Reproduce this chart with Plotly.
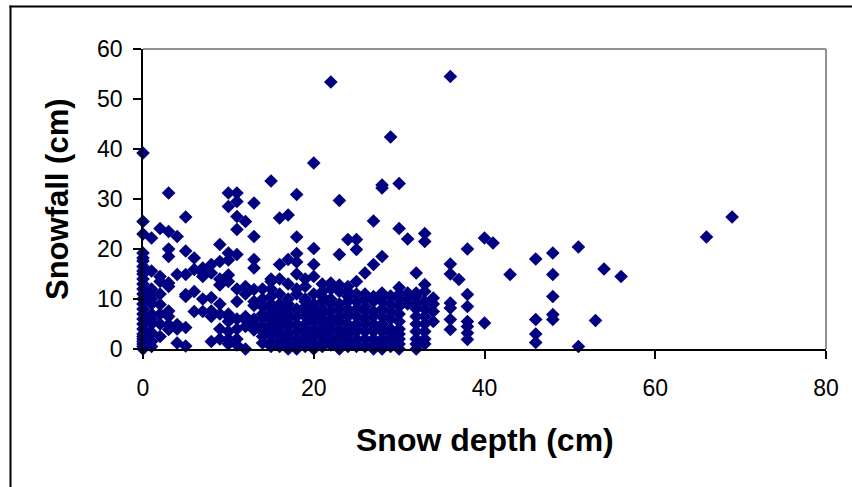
import plotly.graph_objects as go

# Snow depth (cm) for each observation
snow_depth = [
    0, 0, 0, 0, 0, 0, 0, 0, 0, 0, 0, 0, 0, 0, 0, 0, 0, 0, 0, 0, 0, 0, 0, 0, 0, 0, 0,
    1, 1, 1, 1, 1, 1, 1, 1, 1, 1, 1, 1,
    2, 2, 2, 2, 2, 2, 2, 2,
    3, 3, 3, 3, 3, 3, 3, 3, 3, 3,
    4, 4, 4, 4, 4,
    5, 5, 5, 5, 5, 5, 5,
    6, 6, 6, 6,
    7, 7, 7, 7, 7,
    8, 8, 8, 8, 8, 8,
    9, 9, 9, 9, 9, 9, 9, 9,
    10, 10, 10, 10, 10, 10, 10, 10, 10, 10, 10, 10,
    11, 11, 11, 11, 11, 11, 11, 11, 11, 11, 11,
    12, 12, 12, 12, 12, 12, 12,
    13, 13, 13, 13, 13, 13, 13, 13, 13, 13,
    14, 14, 14, 14, 14, 14, 14, 14, 14,
    15, 15, 15, 15, 15, 15, 15, 15, 15, 15, 15, 15, 15, 15,
    16, 16, 16, 16, 16, 16, 16, 16, 16, 16, 16, 16, 16, 16,
    17, 17, 17, 17, 17, 17, 17, 17, 17, 17, 17, 17, 17, 17,
    18, 18, 18, 18, 18, 18, 18, 18, 18, 18, 18, 18, 18, 18,
    19, 19, 19, 19, 19, 19, 19, 19, 19, 19, 19, 19, 19,
    20, 20, 20, 20, 20, 20, 20, 20, 20, 20, 20, 20, 20, 20, 20,
    21, 21, 21, 21, 21, 21, 21, 21, 21, 21, 21, 21, 21,
    22, 22, 22, 22, 22, 22, 22, 22, 22, 22, 22, 22, 22,
    23, 23, 23, 23, 23, 23, 23, 23, 23, 23, 23, 23, 23,
    24, 24, 24, 24, 24, 24, 24, 24, 24, 24, 24, 24, 24, 24,
    25, 25, 25, 25, 25, 25, 25, 25, 25, 25, 25, 25, 25,
    26, 26, 26, 26, 26, 26, 26, 26, 26, 26,
    27, 27, 27, 27, 27, 27, 27, 27, 27, 27, 27, 27,
    28, 28, 28, 28, 28, 28, 28, 28, 28, 28, 28, 28, 28, 28,
    29, 29, 29, 29, 29, 29, 29, 29, 29, 29,
    30, 30, 30, 30, 30, 30, 30, 30, 30, 30, 30, 30, 30,
    31, 31, 31, 31,
    32, 32, 32, 32, 32, 32, 32, 32, 32, 32, 32,
    33, 33, 33, 33, 33, 33, 33, 33, 33, 33, 33,
    34, 34, 34, 34,
    36, 36, 36, 36, 36, 36, 36,
    37,
    38, 38, 38, 38, 38, 38, 38,
    40, 40,
    41,
    43,
    46, 46, 46, 46,
    48, 48, 48, 48, 48,
    51, 51,
    53,
    54,
    56,
    66,
    69,
]

# Snowfall (cm) for each observation
snowfall = [
    0, 0.5, 1, 1.5, 2, 2.5, 3, 4, 5, 6, 7, 8, 9, 10, 11, 12, 13, 14, 15, 15.6, 16.5, 17.6, 18.2, 19.2, 23, 25.5, 39.2,
    22.2, 15.6, 12, 10, 7, 5, 3.3, 1.5, 6, 9, 0.5, 11,
    24.1, 14.5, 11, 8.9, 5, 13.5, 2.5, 7,
    31.2, 23.5, 20, 18.5, 13.2, 7.6, 4.9, 3.9, 12.5, 6.5,
    22.5, 14.9, 4.9, 1.2, 4,
    26.4, 19.6, 14.9, 10.9, 0.6, 4.3, 10.5,
    18.2, 15.9, 11.5, 7.5,
    16.2, 15.2, 10, 7.5, 14.5,
    16.9, 10.3, 7.6, 1.5, 15.2, 6.5,
    20.9, 17.5, 9, 7, 4, 2, 14, 12.8,
    31.2, 28.5, 19.2, 14.8, 13.5, 7, 3.5, 2, 6.5, 1, 5.5, 17.8,
    31.2, 29.5, 26.5, 23.9, 18.9, 12, 6, 4, 2, 0.8, 9.5,
    25.5, 12.5, 11, 6.5, 4.5, 0, 5.8,
    29.2, 22.5, 17.9, 16.2, 11.9, 8.7, 6, 3.8, 9.5, 5,
    10, 7, 4.5, 2.5, 1.2, 12, 6, 8.5, 3.5,
    33.6, 13.5, 12, 10.5, 8, 6, 3, 1.5, 0.5, 14, 5, 7, 4, 9,
    26.2, 16.9, 14, 11, 7.5, 5.5, 3.5, 1.5, 9, 0.5, 2.5, 4.5, 6.5, 8,
    26.8, 17.9, 13, 8, 6, 4.5, 2, 0, 1, 10, 3, 5, 7, 9,
    30.9, 22.4, 19.1, 17.4, 15, 12, 11, 8, 6.5, 5, 3.5, 2, 1, 0,
    14, 8.5, 6.5, 5, 3, 1.5, 0.5, 10, 12.5, 7.5, 2, 4, 9.5,
    37.2, 20.1, 16.9, 14.5, 11, 9, 7, 5.5, 4, 2.5, 1, 0, 3, 6, 8,
    13, 10.5, 8, 6, 4, 3, 1.5, 0.5, 11.5, 2.5, 5, 7, 9.5,
    53.4, 13.2, 10, 7.5, 5, 3.5, 2, 0.8, 12, 6, 1.5, 4, 9,
    29.7, 18.9, 12.8, 9, 6.5, 4, 2.5, 1, 0, 11.5, 5.5, 8, 3.5,
    21.9, 12.5, 10.5, 8, 5, 3, 1.5, 11.5, 6.5, 0.5, 2, 4, 7, 9.5,
    21.9, 19.9, 13.5, 11, 9.5, 5, 3.5, 2, 1, 0.5, 4, 6.5, 8,
    15.2, 11, 7.5, 10, 0.5, 2, 3.5, 5, 6, 8.5,
    25.6, 16.9, 5, 3.5, 2, 1, 0, 4, 6.5, 7.5, 9.5, 10.5,
    32.2, 32.8, 18.5, 11.2, 9.5, 8, 6.5, 5, 3.5, 2, 1, 0, 4, 10.3,
    42.4, 10.6, 9, 4, 2, 0.5, 6, 7.5, 3, 1,
    33.1, 24.1, 12.3, 10, 8.5, 7, 5.5, 4, 3, 2, 1, 0, 11,
    22, 11.2, 10, 9,
    15.2, 11.2, 10.5, 9, 8, 6.5, 5, 3.5, 2, 1, 0,
    23.1, 21.5, 12.9, 11.5, 9.5, 8, 6.5, 5, 3.5, 2, 1,
    10.2, 9, 7.5, 5.5,
    54.5, 17, 15, 9.2, 8.2, 5.9, 3.9,
    13.9,
    20, 10.9, 8.5, 5.5, 4.5, 3.2, 1.9,
    22.2, 5.2,
    21.2,
    14.9,
    18, 5.9, 3, 1.3,
    19.2, 14.9, 10.5, 6.9, 5.9,
    20.4, 0.5,
    5.7,
    16,
    14.5,
    22.4,
    26.4,
]

x_ticks = [0, 20, 40, 60, 80]
y_ticks = [0, 10, 20, 30, 40, 50, 60]
x_title = "Snow depth (cm)"
y_title = "Snowfall (cm)"

FONT = "Liberation Sans, Arial, sans-serif"
NAVY = "#000080"

fig = go.Figure()
fig.add_trace(go.Scatter(
    x=snow_depth, y=snowfall, mode="markers",
    marker=dict(symbol="diamond", size=10.5, color=NAVY, line=dict(width=0)),
    cliponaxis=False, showlegend=False, hoverinfo="x+y",
))

axis_common = dict(
    showgrid=False, zeroline=False, showline=True, linecolor="black", linewidth=1.5,
    ticks="outside", ticklen=8, tickwidth=1.5, tickcolor="black",
    tickfont=dict(family=FONT, size=23, color="black"),
)
fig.update_xaxes(range=[0, 80], tickvals=x_ticks, ticklabelstandoff=10, **axis_common)
fig.update_yaxes(range=[0, 60], tickvals=y_ticks, ticklabelstandoff=6, **axis_common)


def paper_x(p):
    return (p - 143) / 683


def paper_y(p):
    return (349 - p) / 300


# plot-area frame (grey top/right)
fig.add_shape(type="line", xref="paper", yref="paper", x0=0, x1=1, y0=1, y1=1,
              line=dict(color="#909090", width=2), layer="below")
fig.add_shape(type="line", xref="paper", yref="paper", x0=1, x1=1, y0=0, y1=1,
              line=dict(color="#909090", width=2), layer="below")
# outer chart border (top and left edges visible in the window)
fig.add_shape(type="line", xref="paper", yref="paper",
              x0=paper_x(9.5), x1=paper_x(852), y0=paper_y(6.5), y1=paper_y(6.5),
              line=dict(color="black", width=2), layer="above")
fig.add_shape(type="line", xref="paper", yref="paper",
              x0=paper_x(10.5), x1=paper_x(10.5), y0=paper_y(487), y1=paper_y(5.5),
              line=dict(color="black", width=2), layer="above")

fig.add_annotation(text=f"<b>{x_title}</b>", xref="paper", yref="paper",
                   x=0.5, y=paper_y(440), xanchor="center", yanchor="middle",
                   showarrow=False, font=dict(family=FONT, size=32, color="black"))
fig.add_annotation(text=f"<b>{y_title}</b>", xref="paper", yref="paper",
                   x=paper_x(57), y=0.5, xanchor="center", yanchor="middle",
                   textangle=-90, showarrow=False,
                   font=dict(family=FONT, size=31, color="black"))

fig.update_layout(
    width=852, height=487,
    margin=dict(l=143, r=26, t=49, b=138, autoexpand=False),
    paper_bgcolor="white", plot_bgcolor="white",
    font=dict(family=FONT),
)

fig.write_html(
    "out.html",
    config={"displayModeBar": False},
    post_script="document.body.style.margin='0';",
)
